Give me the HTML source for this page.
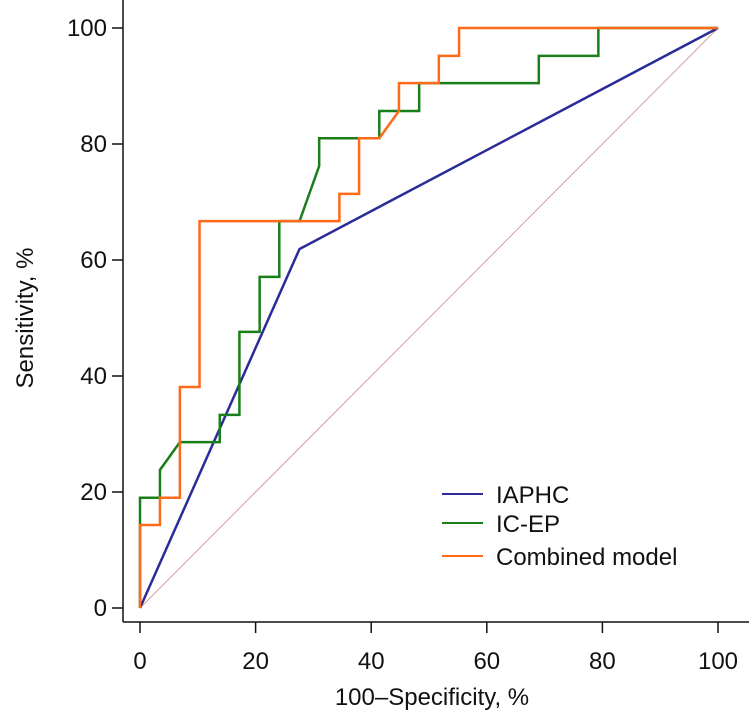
<!DOCTYPE html>
<html><head><meta charset="utf-8"><style>
body{margin:0;background:#fff;}
svg text{font-family:"Liberation Sans",Arial,sans-serif;fill:#111;}
</style></head><body>
<svg width="749" height="721">
<g id="axes"></g><g id="plot"></g><g id="legend"></g>
</svg>
<script>
const ticks=[0,20,40,60,80,100];
const seriesNames=["IAPHC","IC-EP","Combined model"];
const seriesColors=["#2b2b9a","#1a7f1a","#ff6a1a"];
const iaphcX=[0,27.6,100];
const iaphcY=[0,61.9,100];
const icepX=[0,0,0,3.45,3.45,6.9,13.8,13.8,17.2,17.2,20.7,20.7,24.1,24.1,27.6,31,31,41.4,41.4,48.3,48.3,69,69,79.3,79.3,100];
const icepY=[0,14.3,19,19,23.8,28.6,28.6,33.3,33.3,47.6,47.6,57.1,57.1,66.7,66.7,76.2,81,81,85.7,85.7,90.5,90.5,95.2,95.2,100,100];
const combX=[0,0,3.45,3.45,6.9,6.9,10.3,10.3,34.5,34.5,37.9,37.9,41.4,44.8,44.8,51.7,51.7,55.2,55.2,100];
const combY=[0,14.3,14.3,19,19,38.1,38.1,66.7,66.7,71.4,71.4,81,81,85.7,90.5,90.5,95.2,95.2,100,100];
const NS="http://www.w3.org/2000/svg";
const xs=v=>140+v*5.78, ys=v=>608-v*5.8;
function mk(t,a,p){const e=document.createElementNS(NS,t);for(const k in a)e.setAttribute(k,a[k]);p.appendChild(e);return e;}
const ax=document.getElementById('axes'),pl=document.getElementById('plot'),lg=document.getElementById('legend');
let e=mk('line',{x1:123,y1:0,x2:123,y2:622,stroke:'#111','stroke-width':1.5},ax);

e=mk('line',{x1:123,y1:622,x2:749,y2:622,stroke:'#111','stroke-width':1.5},ax);

ticks.forEach(t=>{
 mk('line',{x1:112,x2:123,y1:ys(t),y2:ys(t),stroke:'#111','stroke-width':1.5},ax);
 let l=mk('text',{x:107,y:ys(t)+8,'text-anchor':'end','font-size':24},ax);l.textContent=t;
 
 mk('line',{x1:xs(t),x2:xs(t),y1:622,y2:633,stroke:'#111','stroke-width':1.5},ax);
 l=mk('text',{x:xs(t),y:669,'text-anchor':'middle','font-size':24},ax);l.textContent=t;
 
});
e=mk('text',{x:432,y:705,'text-anchor':'middle','font-size':24},ax);e.textContent='100–Specificity, %';

e=mk('text',{x:0,y:0,'text-anchor':'middle','font-size':24,transform:'translate(33,318) rotate(-90)'},ax);e.textContent='Sensitivity, %';

e=mk('line',{x1:xs(0),y1:ys(0),x2:xs(100),y2:ys(100),stroke:'#d4a0a0','stroke-width':1},pl);

const data=[[iaphcX,iaphcY],[icepX,icepY],[combX,combY]];
const names=['iaphc-curve','icep-curve','combined-model-curve'];
data.forEach((d,i)=>{
 const pts=d[0].map((x,j)=>xs(x)+','+ys(d[1][j])).join(' ');
 const p=mk('polyline',{points:pts,fill:'none',stroke:seriesColors[i],'stroke-width':2.5},pl);
 
});
const ly=[494,523,556];
seriesNames.forEach((n,i)=>{
 const g=mk('g',{},lg);
 
 mk('line',{x1:442,x2:483,y1:ly[i],y2:ly[i],stroke:seriesColors[i],'stroke-width':2},g);
 const t=mk('text',{x:496,y:ly[i]+9,'font-size':24},g);t.textContent=n;
});
</script>
</body></html>
